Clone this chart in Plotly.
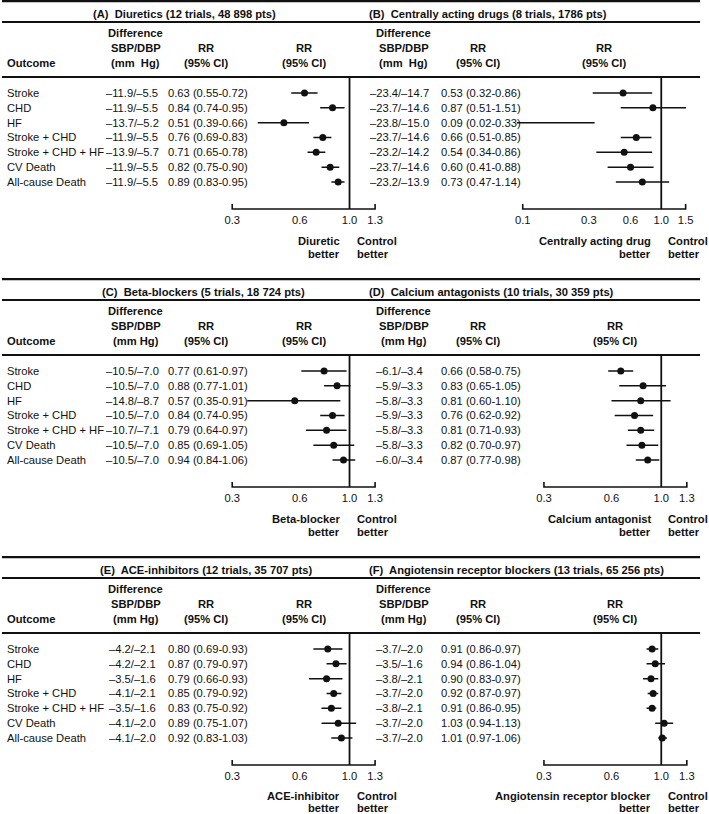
import math
import plotly.graph_objects as go

W, H = 709, 814

# ---------------- data ----------------
outcomes = ["Stroke", "CHD", "HF", "Stroke + CHD", "Stroke + CHD + HF",
            "CV Death", "All-cause Death"]

titles = ["(A)  Diuretics (12 trials, 48 898 pts)",
          "(B)  Centrally acting drugs (8 trials, 1786 pts)",
          "(C)  Beta-blockers (5 trials, 18 724 pts)",
          "(D)  Calcium antagonists (10 trials, 30 359 pts)",
          "(E)  ACE-inhibitors (12 trials, 35 707 pts)",
          "(F)  Angiotensin receptor blockers (13 trials, 65 256 pts)"]

drug_better = ["Diuretic", "Centrally acting drug", "Beta-blocker",
               "Calcium antagonist", "ACE-inhibitor",
               "Angiotensin receptor blocker"]

diff_A = ["–11.9/–5.5", "–11.9/–5.5", "–13.7/–5.2", "–11.9/–5.5", "–13.9/–5.7", "–11.9/–5.5", "–11.9/–5.5"]
rr_A = [0.63, 0.84, 0.51, 0.76, 0.71, 0.82, 0.89]
lo_A = [0.55, 0.74, 0.39, 0.69, 0.65, 0.75, 0.83]
hi_A = [0.72, 0.95, 0.66, 0.83, 0.78, 0.90, 0.95]

diff_B = ["–23.4/–14.7", "–23.7/–14.6", "–23.8/–15.0", "–23.7/–14.6", "–23.2/–14.2", "–23.7/–14.6", "–23.2/–13.9"]
rr_B = [0.53, 0.87, 0.09, 0.66, 0.54, 0.60, 0.73]
lo_B = [0.32, 0.51, 0.02, 0.51, 0.34, 0.41, 0.47]
hi_B = [0.86, 1.51, 0.33, 0.85, 0.86, 0.88, 1.14]

diff_C = ["–10.5/–7.0", "–10.5/–7.0", "–14.8/–8.7", "–10.5/–7.0", "–10.7/–7.1", "–10.5/–7.0", "–10.5/–7.0"]
rr_C = [0.77, 0.88, 0.57, 0.84, 0.79, 0.85, 0.94]
lo_C = [0.61, 0.77, 0.35, 0.74, 0.64, 0.69, 0.84]
hi_C = [0.97, 1.01, 0.91, 0.95, 0.97, 1.05, 1.06]

diff_D = ["–6.1/–3.4", "–5.9/–3.3", "–5.8/–3.3", "–5.9/–3.3", "–5.8/–3.3", "–5.8/–3.3", "–6.0/–3.4"]
rr_D = [0.66, 0.83, 0.81, 0.76, 0.81, 0.82, 0.87]
lo_D = [0.58, 0.65, 0.60, 0.62, 0.71, 0.70, 0.77]
hi_D = [0.75, 1.05, 1.10, 0.92, 0.93, 0.97, 0.98]

diff_E = ["–4.2/–2.1", "–4.2/–2.1", "–3.5/–1.6", "–4.1/–2.1", "–3.5/–1.6", "–4.1/–2.0", "–4.1/–2.0"]
rr_E = [0.80, 0.87, 0.79, 0.85, 0.83, 0.89, 0.92]
lo_E = [0.69, 0.79, 0.66, 0.79, 0.75, 0.75, 0.83]
hi_E = [0.93, 0.97, 0.93, 0.92, 0.92, 1.07, 1.03]

diff_F = ["–3.7/–2.0", "–3.5/–1.6", "–3.8/–2.1", "–3.7/–2.0", "–3.8/–2.1", "–3.7/–2.0", "–3.7/–2.0"]
rr_F = [0.91, 0.94, 0.90, 0.92, 0.91, 1.03, 1.01]
lo_F = [0.86, 0.86, 0.83, 0.87, 0.86, 0.94, 0.97]
hi_F = [0.97, 1.04, 0.97, 0.97, 0.95, 1.13, 1.06]

ticks_std = [0.3, 0.6, 1.0, 1.3]
ticks_B = [0.1, 0.3, 0.6, 1.0, 1.5]

panels = [
    (diff_A, rr_A, lo_A, hi_A, ticks_std),
    (diff_B, rr_B, lo_B, hi_B, ticks_B),
    (diff_C, rr_C, lo_C, hi_C, ticks_std),
    (diff_D, rr_D, lo_D, hi_D, ticks_std),
    (diff_E, rr_E, lo_E, hi_E, ticks_std),
    (diff_F, rr_F, lo_F, hi_F, ticks_std),
]

# ---------------- layout (pixels) ----------------
FONT = "Liberation Sans, Arial, Helvetica, sans-serif"
FS = 11.2
INK = "#111111"
row_off = [0, 278, 556]
ROW0, DY = 93.0, 14.83
HDR_LINE, AX_LINE, DOM_BOT = 77.0, 209.0, 212.0
title_x = [90, 367, 99, 367, 97, 367]
one_px = [349.5, 663.0]          # pixel x of RR = 1.0 per column
scale = [98.0, 60.5, 98.0, 98.0, 98.0, 98.0]   # px per ln unit
PAD = 6.0
col_cfg = [
    dict(outcome_x=3, diff_c=131, rr_x=165, hdr_diff=134.5, hdr_rr=205),
    dict(outcome_x=None, diff_c=400, rr_x=439, hdr_diff=404, hdr_rr=479),
]


def py(px):
    return 1 - px / H


def pxx(px):
    return px / W


fig = go.Figure()
ann = []
shapes = []

# horizontal rules
for off in row_off:
    for yy, lw in [(1.2 + off, 2.2), (22 + off, 2.0), (HDR_LINE + off, 2.0)]:
        shapes.append(dict(type="line", xref="paper", yref="paper",
                           x0=0, x1=pxx(702), y0=py(yy), y1=py(yy),
                           line=dict(color=INK, width=lw)))

layout_axes = {}
for n, (diff, rr, lo, hi, tv) in enumerate(panels):
    col, row = n % 2, n // 2
    off = row_off[row]
    cfg = col_cfg[col]
    p1, k = one_px[col], scale[n]
    xn = "" if n == 0 else str(n + 1)
    xa, ya = "x" + xn, "y" + xn

    # x domain / range
    a_px = p1 + k * math.log(tv[0]) - PAD
    b_px = p1 + k * math.log(tv[-1]) + PAD
    r_lo = (a_px - p1) / k / math.log(10)
    r_hi = (b_px - p1) / k / math.log(10)
    # y domain / range (row index units)
    top_px, bot_px = HDR_LINE + off, DOM_BOT + off
    r0 = ROW0 + off
    y_top = (top_px - r0) / DY
    y_bot = (bot_px - r0) / DY
    y_axis = (AX_LINE + off - r0) / DY
    y_tick = (AX_LINE - 5 + off - r0) / DY

    layout_axes["xaxis" + xn] = dict(
        type="log", domain=[pxx(a_px), pxx(b_px)], range=[r_lo, r_hi],
        anchor=ya, showgrid=False, zeroline=False, showline=False,
        ticks="", tickvals=tv, ticktext=[f"{v:.1f}" for v in tv],
        tickfont=dict(family=FONT, size=FS, color=INK), fixedrange=True)
    layout_axes["yaxis" + xn] = dict(
        domain=[py(bot_px), py(top_px)], range=[y_bot, y_top],
        anchor=xa, visible=False, fixedrange=True)

    # axis bracket and reference line
    fig.add_trace(go.Scatter(x=[tv[0], tv[0], tv[-1], tv[-1]],
                             y=[y_tick, y_axis, y_axis, y_tick],
                             xaxis=xa, yaxis=ya, mode="lines",
                             line=dict(color=INK, width=1.6),
                             hoverinfo="skip", showlegend=False))
    fig.add_trace(go.Scatter(x=[1, 1], y=[y_top, y_axis], xaxis=xa, yaxis=ya,
                             mode="lines", line=dict(color=INK, width=1.8),
                             hoverinfo="skip", showlegend=False))
    # CIs
    cx, cy = [], []
    for i in range(len(rr)):
        cx += [lo[i], hi[i], None]
        cy += [i, i, None]
    fig.add_trace(go.Scatter(x=cx, y=cy, xaxis=xa, yaxis=ya, mode="lines",
                             line=dict(color=INK, width=1.5),
                             hoverinfo="skip", showlegend=False))
    fig.add_trace(go.Scatter(x=rr, y=list(range(len(rr))), xaxis=xa, yaxis=ya,
                             mode="markers", cliponaxis=False,
                             marker=dict(color=INK, size=7),
                             showlegend=False))

    f = dict(family=FONT, size=FS, color=INK)
    fb = dict(family=FONT, size=FS, color=INK, weight="bold")
    # rows text
    for i in range(len(rr)):
        if cfg["outcome_x"] is not None:
            ann.append(dict(text=outcomes[i], x=pxx(cfg["outcome_x"]), xref="paper",
                            y=i, yref=ya, xanchor="left", yanchor="middle",
                            showarrow=False, font=f))
        ann.append(dict(text=diff[i], x=pxx(cfg["diff_c"]), xref="paper",
                        y=i, yref=ya, xanchor="center", yanchor="middle",
                        showarrow=False, font=f))
        ann.append(dict(text=f"{rr[i]:.2f} ({lo[i]:.2f}-{hi[i]:.2f})",
                        x=pxx(cfg["rr_x"]), xref="paper",
                        y=i, yref=ya, xanchor="left", yanchor="middle",
                        showarrow=False, font=f))

    # title
    ann.append(dict(text=titles[n], x=pxx(title_x[n]), xref="paper",
                    y=py(14 + off), yref="paper", xanchor="left", yanchor="middle",
                    showarrow=False, font=fb))
    # headers
    mmhg = "(mm  Hg)" if row == 0 else "(mm Hg)"
    for txt, yy in [("Difference", 33), ("SBP/DBP", 48), (mmhg, 63)]:
        ann.append(dict(text=txt, x=pxx(cfg["hdr_diff"]), xref="paper",
                        y=py(yy + off), yref="paper", xanchor="center",
                        yanchor="middle", showarrow=False, font=fb))
    plot_c = (p1 + k * math.log(tv[0]) + p1 + k * math.log(tv[-1])) / 2
    for cx_ in [cfg["hdr_rr"], plot_c]:
        for txt, yy in [("RR", 48), ("(95% CI)", 63)]:
            ann.append(dict(text=txt, x=pxx(cx_), xref="paper",
                            y=py(yy + off), yref="paper", xanchor="center",
                            yanchor="middle", showarrow=False, font=fb))
    if cfg["outcome_x"] is not None:
        ann.append(dict(text="Outcome", x=pxx(3), xref="paper",
                        y=py(63 + off), yref="paper", xanchor="left",
                        yanchor="middle", showarrow=False, font=fb))
    # better labels (bottom row nudged up slightly so it stays inside the page)
    y1_, y2_ = (241, 254) if row < 2 else (240, 252)
    for txt, yy in [(drug_better[n], y1_), ("better", y2_)]:
        ann.append(dict(text=txt, x=0, xref=xa, xshift=-8,
                        y=py(yy + off), yref="paper", xanchor="right",
                        yanchor="middle", showarrow=False, font=fb))
    for txt, yy in [("Control", y1_), ("better", y2_)]:
        ann.append(dict(text=txt, x=0, xref=xa, xshift=5,
                        y=py(yy + off), yref="paper", xanchor="left",
                        yanchor="middle", showarrow=False, font=fb))

fig.update_layout(
    width=W, height=H, margin=dict(l=0, r=0, t=0, b=0),
    paper_bgcolor="white", plot_bgcolor="rgba(0,0,0,0)",
    showlegend=False, annotations=ann, shapes=shapes,
    font=dict(family=FONT, size=FS, color=INK),
    **layout_axes)

fig.write_html("out.html",
               config={"displayModeBar": False},
               post_script="document.body.style.margin='0';"
                           "document.body.style.padding='0';"
                           "document.body.style.overflow='hidden';")
